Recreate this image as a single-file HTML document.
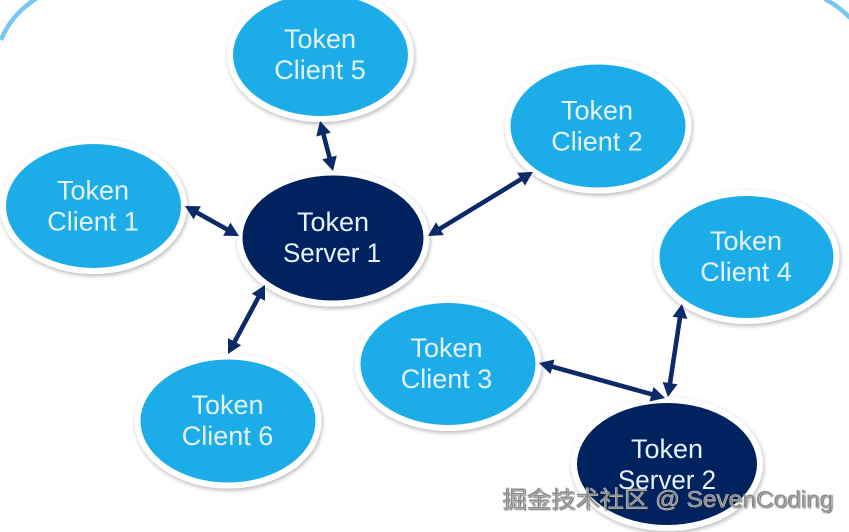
<!DOCTYPE html>
<html>
<head>
<meta charset="utf-8">
<style>
html,body{margin:0;padding:0;background:#fff;}
body{width:849px;height:532px;overflow:hidden;position:relative;}
svg{position:absolute;left:0;top:0;filter:blur(.35px);}
text{font-family:"Liberation Sans","Noto Sans CJK SC",sans-serif;}
.t{font-size:27px;fill:#e4f3fb;text-anchor:middle;}
.e{stroke:#fff;stroke-width:6;filter:url(#sh);}
.c{fill:#1fade9;}
.s{fill:#04215f;}
.h{fill:#0c2a68;}
.wm{font-size:23px;fill:#8c8c8c;stroke:#fff;stroke-width:.5px;paint-order:stroke;}
</style>
</head>
<body>
<svg width="849" height="532" viewBox="0 0 849 532">
<defs>
<filter id="sh" x="-10%" y="-10%" width="120%" height="125%">
<feDropShadow dx="1" dy="2" stdDeviation="2" flood-color="#000" flood-opacity=".28"/>
</filter>
<filter id="ws" x="-5%" y="-20%" width="110%" height="140%">
<feDropShadow dx="1" dy="1" stdDeviation=".6" flood-color="#222" flood-opacity=".7"/>
</filter>
</defs>

<path d="M1 40C8 22 20 9 37 -2" fill="none" stroke="#78c6f2" stroke-width="4.500"/>
<path d="M825 -1C834 4 843 10 850 18" fill="none" stroke="#78c6f2" stroke-width="4.500"/>

<ellipse class="e c" cx="320.500" cy="55" rx="90.500" ry="64"/>
<ellipse class="e c" cx="93.500" cy="206" rx="90.500" ry="65"/>
<ellipse class="e c" cx="598" cy="126" rx="90.500" ry="64.500"/>
<ellipse class="e c" cx="746.500" cy="257" rx="90" ry="64"/>
<ellipse class="e c" cx="448" cy="364" rx="90.500" ry="64"/>
<ellipse class="e c" cx="228" cy="421" rx="90.500" ry="64.500"/>
<ellipse class="e s" cx="333" cy="238" rx="93.500" ry="65.500"/>
<ellipse class="e s" cx="667" cy="464" rx="93" ry="64"/>

<g class="h">
<path transform="translate(320,121) rotate(75.4)" d="M0 0L14 -7.500V-2.300H37.700V-7.500L51.700 0L37.700 7.500V2.300H14V7.500Z"/>
<path transform="translate(185,206) rotate(29.05)" d="M0 0L14 -7.500V-2.300H47.800V-7.500L61.800 0L47.800 7.500V2.300H14V7.500Z"/>
<path transform="translate(428,236) rotate(-31.4)" d="M0 0L14 -7.500V-2.300H109V-7.500L123 0L109 7.500V2.300H14V7.500Z"/>
<path transform="translate(265,285) rotate(118.2)" d="M0 0L14 -7.500V-2.300H64.300V-7.500L78.300 0L64.300 7.500V2.300H14V7.500Z"/>
<path transform="translate(539,363) rotate(15.5)" d="M0 0L14 -7.500V-2.300H116.800V-7.500L130.800 0L116.800 7.500V2.300H14V7.500Z"/>
<path transform="translate(682,304) rotate(98.6)" d="M0 0L14 -7.500V-2.300H80V-7.500L94 0L80 7.500V2.300H14V7.500Z"/>
</g>

<text class="t" x="320" y="48">Token</text><text class="t" x="320" y="79">Client 5</text>
<text class="t" x="93" y="199.500">Token</text><text class="t" x="93" y="230.500">Client 1</text>
<text class="t" x="597" y="119.500">Token</text><text class="t" x="597" y="150.500">Client 2</text>
<text class="t" x="746" y="250">Token</text><text class="t" x="746" y="281">Client 4</text>
<text class="t" x="446.500" y="357">Token</text><text class="t" x="446.500" y="388">Client 3</text>
<text class="t" x="227.500" y="414">Token</text><text class="t" x="227.500" y="445">Client 6</text>
<text class="t" x="333" y="231">Token</text><text class="t" x="332" y="262" textLength="98" lengthAdjust="spacingAndGlyphs">Server 1</text>
<text class="t" x="667" y="458">Token</text><text class="t" x="667" y="489" textLength="98" lengthAdjust="spacingAndGlyphs">Server 2</text>

<text class="wm" x="502" y="507" textLength="331" lengthAdjust="spacingAndGlyphs" filter="url(#ws)">掘金技术社区 @ SevenCoding</text>
</svg>
</body>
</html>
